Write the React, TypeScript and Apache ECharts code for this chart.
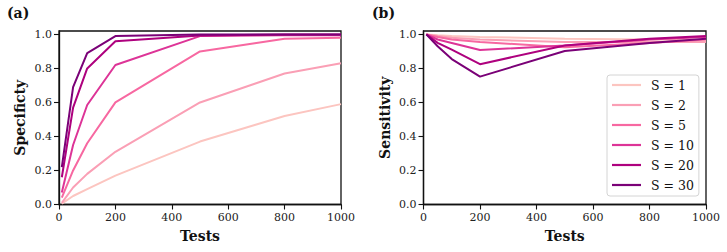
import React, { useEffect, useRef } from "react";
import * as echarts from "echarts";

const tests = [10, 50, 100, 200, 500, 800, 1000];
const seriesNames = ["S = 1", "S = 2", "S = 5", "S = 10", "S = 20", "S = 30"];
const colors = ["#fcc5c0", "#fa9fb5", "#f768a1", "#dd3497", "#ae017e", "#7a0177"];

const specS1 = [0.005, 0.05, 0.09, 0.17, 0.37, 0.52, 0.59];
const specS2 = [0.01, 0.1, 0.18, 0.31, 0.6, 0.77, 0.83];
const specS5 = [0.04, 0.2, 0.36, 0.6, 0.9, 0.975, 0.98];
const specS10 = [0.07, 0.35, 0.585, 0.82, 0.99, 0.995, 0.995];
const specS20 = [0.16, 0.57, 0.8, 0.96, 0.993, 1.0, 1.0];
const specS30 = [0.22, 0.69, 0.89, 0.99, 1.0, 1.0, 1.0];

const sensS1 = [1.0, 0.995, 0.99, 0.985, 0.975, 0.97, 0.965];
const sensS2 = [1.0, 0.99, 0.98, 0.97, 0.955, 0.955, 0.955];
const sensS5 = [1.0, 0.985, 0.97, 0.955, 0.925, 0.95, 0.97];
const sensS10 = [1.0, 0.97, 0.95, 0.908, 0.935, 0.97, 0.985];
const sensS20 = [1.0, 0.95, 0.91, 0.825, 0.935, 0.975, 0.99];
const sensS30 = [1.0, 0.93, 0.855, 0.752, 0.902, 0.95, 0.975];

const specData = [specS1, specS2, specS5, specS10, specS20, specS30];
const sensData = [sensS1, sensS2, sensS5, sensS10, sensS20, sensS30];

const yTicks = [0, 0.2, 0.4, 0.6, 0.8, 1.0];
const xTicks = [0, 200, 400, 600, 800, 1000];

const FONT = "DejaVu Serif, Liberation Serif, serif";
const TICK_FS = 11;
const TITLE_FS = 14;

function makeXAxis(gridIndex: number) {
  return {
    type: "value",
    gridIndex,
    min: 0,
    max: 1000,
    interval: 200,
    name: "Tests",
    nameLocation: "middle",
    nameGap: 24,
    nameTextStyle: { fontFamily: FONT, fontSize: TITLE_FS, fontWeight: "bold", color: "#111" },
    axisLine: { show: true, lineStyle: { color: "#111", width: 1.3 } },
    axisTick: { show: true, inside: false, length: 5, lineStyle: { color: "#111", width: 1.1 }, customValues: xTicks },
    axisLabel: {
      fontFamily: FONT,
      fontSize: TICK_FS,
      color: "#222",
      margin: 7,
      customValues: xTicks,
      formatter: (v: number) => String(Math.round(v)),
    },
    splitLine: { show: false },
  };
}

function makeYAxis(gridIndex: number, name: string) {
  return {
    type: "value",
    gridIndex,
    min: 0,
    max: 1.02,
    name,
    nameLocation: "middle",
    nameGap: 32,
    nameTextStyle: { fontFamily: FONT, fontSize: TITLE_FS, fontWeight: "bold", color: "#111" },
    axisLine: { show: true, lineStyle: { color: "#111", width: 1.3 } },
    axisTick: { show: true, inside: false, length: 5, lineStyle: { color: "#111", width: 1.1 }, customValues: yTicks },
    axisLabel: {
      fontFamily: FONT,
      fontSize: TICK_FS,
      color: "#222",
      margin: 7,
      customValues: yTicks,
      formatter: (v: number) => v.toFixed(1),
    },
    splitLine: { show: false },
  };
}

export default function App() {
  const ref = useRef<HTMLDivElement>(null);
  useEffect(() => {
    if (!ref.current) return;
    const chart = echarts.init(ref.current, null, { renderer: "svg" });
    const series: any[] = [];
    seriesNames.forEach((name, i) => {
      series.push({
        type: "line",
        name,
        xAxisIndex: 0,
        yAxisIndex: 0,
        symbol: "none",
        data: tests.map((t, j) => [t, specData[i][j]]),
        lineStyle: { color: colors[i], width: 2 },
        itemStyle: { color: colors[i] },
        z: 2 + i,
      });
      series.push({
        type: "line",
        name,
        xAxisIndex: 1,
        yAxisIndex: 1,
        symbol: "none",
        data: tests.map((t, j) => [t, sensData[i][j]]),
        lineStyle: { color: colors[i], width: 2 },
        itemStyle: { color: colors[i] },
        z: 2 + i,
      });
    });
    chart.setOption({
      animation: false,
      backgroundColor: "#fff",
      textStyle: { fontFamily: FONT },
      grid: [
        { left: 59, top: 31, width: 282, height: 173.5, show: true, borderColor: "#111", borderWidth: 1.3, backgroundColor: "transparent" },
        { left: 423.5, top: 31, width: 282.5, height: 173.5, show: true, borderColor: "#111", borderWidth: 1.3, backgroundColor: "transparent" },
      ],
      xAxis: [makeXAxis(0), makeXAxis(1)],
      yAxis: [makeYAxis(0, "Specificty"), makeYAxis(1, "Sensitivity")],
      legend: {
        orient: "vertical",
        left: 607,
        top: 75,
        padding: [3, 5, 4, 5],
        icon: "rect",
        itemWidth: 29,
        itemHeight: 2.2,
        itemGap: 6,
        backgroundColor: "rgba(255,255,255,0.85)",
        borderColor: "#d4d4d4",
        borderWidth: 1,
        borderRadius: 3,
        data: seriesNames,
        textStyle: { fontFamily: FONT, fontSize: 12.5, lineHeight: 14, height: 14, color: "#111", padding: [0, 0, 0, 5] },
      },
      graphic: [
        { type: "text", left: 7, top: 6, style: { text: "(a)", fontFamily: FONT, fontWeight: "bold", fontSize: TITLE_FS, fill: "#111" } },
        { type: "text", left: 372, top: 6, style: { text: "(b)", fontFamily: FONT, fontWeight: "bold", fontSize: TITLE_FS, fill: "#111" } },
      ],
      series,
    });
    return () => chart.dispose();
  }, []);
  return <div ref={ref} style={{ position: "absolute", left: 0, top: 0, width: 727, height: 252 }} />;
}
